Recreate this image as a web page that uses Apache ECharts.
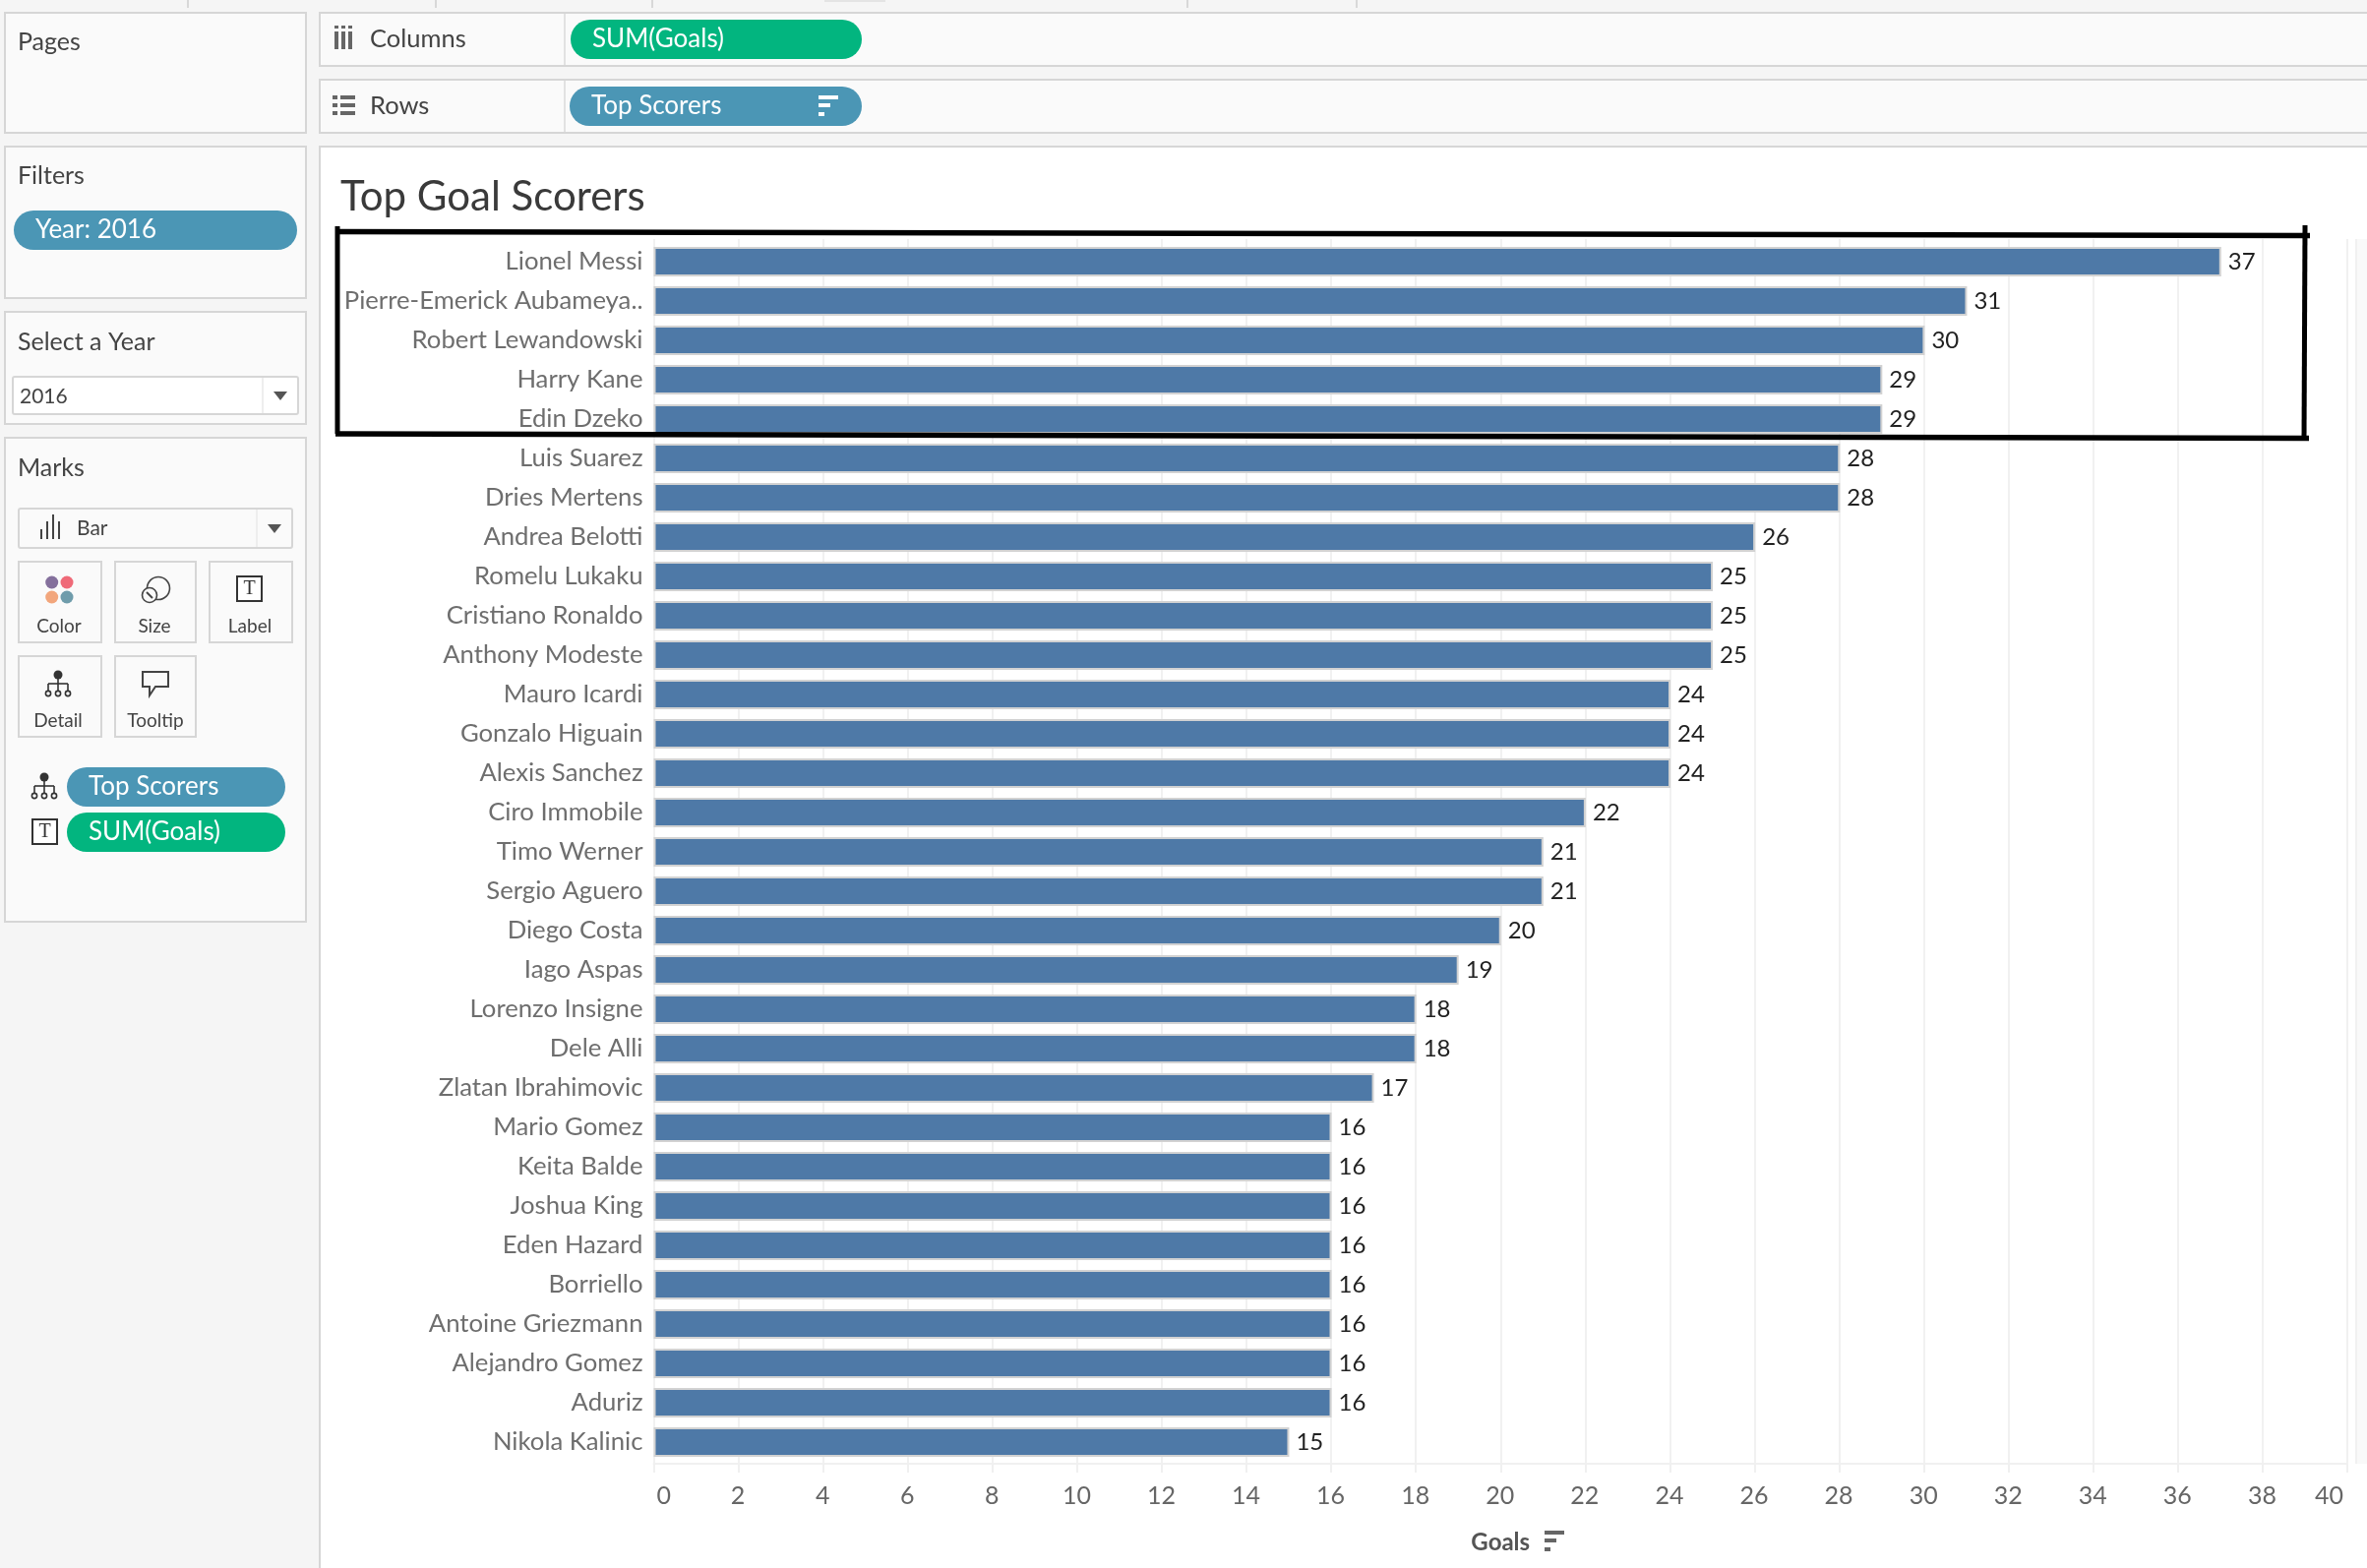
<!DOCTYPE html>
<html>
<head>
<meta charset="utf-8">
<title>Top Goal Scorers</title>
<style>
  html, body { margin: 0; padding: 0; background: #f5f5f5; }
  #chart { width: 2406px; height: 1594px; }
</style>
<script src="https://cdn.jsdelivr.net/npm/echarts@6/dist/echarts.min.js"></script>
</head>
<body>
<div id="chart"></div>
<script>
const scorers = [
  "Lionel Messi", "Pierre-Emerick Aubameya..", "Robert Lewandowski", "Harry Kane", "Edin Dzeko",
  "Luis Suarez", "Dries Mertens", "Andrea Belotti", "Romelu Lukaku", "Cristiano Ronaldo",
  "Anthony Modeste", "Mauro Icardi", "Gonzalo Higuain", "Alexis Sanchez", "Ciro Immobile",
  "Timo Werner", "Sergio Aguero", "Diego Costa", "Iago Aspas", "Lorenzo Insigne",
  "Dele Alli", "Zlatan Ibrahimovic", "Mario Gomez", "Keita Balde", "Joshua King",
  "Eden Hazard", "Borriello", "Antoine Griezmann", "Alejandro Gomez", "Aduriz", "Nikola Kalinic",
];
const goals = [
  37, 31, 30, 29, 29, 28, 28, 26, 25, 25, 25, 24, 24, 24, 22, 21,
  21, 20, 19, 18, 18, 17, 16, 16, 16, 16, 16, 16, 16, 16, 15,
];
const axisMax = 40;
const axisStep = 2;

const FONT = "Lato";
const BORDER = "#d6d6d6";
const BLUE = "#4b96b5";
const GREEN = "#02b57f";
const ICON = "#666666";

// helpers for the Tableau chrome around the chart
const box = (x, y, w, h, fill, stroke, r) => ({
  type: "rect",
  z: -1,
  shape: { x, y, width: w, height: h, r: r || 0 },
  style: { fill: fill, stroke: stroke || null, lineWidth: stroke ? 2 : 0 },
});
const label = (x, y, text, size, color, align) => ({
  type: "text",
  z: 5,
  x,
  y,
  style: {
    text,
    fontFamily: FONT,
    fontSize: size,
    fill: color || "#444444",
    align: align || "left",
    verticalAlign: "middle",
  },
});
const seg = (x1, y1, x2, y2, color, width) => ({
  type: "line",
  z: 5,
  shape: { x1, y1, x2, y2 },
  style: { stroke: color || ICON, lineWidth: width || 2 },
});
const solid = (x, y, w, h, color) => ({
  type: "rect",
  z: 5,
  shape: { x, y, width: w, height: h },
  style: { fill: color || ICON },
});
const dot = (cx, cy, r, fill, stroke) => ({
  type: "circle",
  z: 5,
  shape: { cx, cy, r },
  style: { fill: fill || null, stroke: stroke || null, lineWidth: stroke ? 1.6 : 0 },
});
const pill = (x, y, w, text, color) => [
  Object.assign(box(x, y, w, 40, color, null, 20), { z: 4 }),
  label(x + 22, y + 20, text, 26, "#ffffff"),
];
const sortIcon = (x, y, color) => [
  solid(x, y, 20, 4, color),
  solid(x, y + 8, 12, 4, color),
  solid(x, y + 17, 6, 4, color),
];
const treeIcon = (cx, top) => [
  dot(cx, top + 4, 4.5, "#333333"),
  seg(cx, top + 4, cx, top + 20, "#333333", 1.6),
  seg(cx - 10, top + 13, cx + 10, top + 13, "#333333", 1.6),
  seg(cx - 10, top + 13, cx - 10, top + 20, "#333333", 1.6),
  seg(cx + 10, top + 13, cx + 10, top + 20, "#333333", 1.6),
  dot(cx - 10, top + 23, 2.6, "#ffffff", "#333333"),
  dot(cx, top + 23, 2.6, "#ffffff", "#333333"),
  dot(cx + 10, top + 23, 2.6, "#ffffff", "#333333"),
];
const textIcon = (x, y) => [
  Object.assign(box(x, y, 25, 25, "#ffffff", "#333333"), { z: 5 }),
  {
    type: "text",
    z: 6,
    x: x + 12.5,
    y: y + 13,
    style: {
      text: "T",
      fontFamily: "Liberation Serif",
      fontSize: 20,
      fill: "#333333",
      align: "center",
      verticalAlign: "middle",
    },
  },
];
const arrow = (cx, cy) => ({
  type: "polygon",
  z: 5,
  shape: { points: [[cx - 7, cy - 4], [cx + 7, cy - 4], [cx, cy + 5]] },
  style: { fill: "#555555" },
});

const chrome = [
  // top strip ticks
  ...[191, 443, 663, 1207, 1379].map((x) => seg(x, 0, x, 8, "#d8d8d8")),
  Object.assign(box(838, 0, 62, 2, "#e4e4e4"), { z: 1 }),

  // side cards
  box(5, 13, 306, 122, "#fafafa", BORDER),
  label(18, 43, "Pages", 25),
  box(5, 149, 306, 154, "#fafafa", BORDER),
  label(18, 179, "Filters", 25),
  ...pill(14, 214, 288, "Year: 2016", BLUE),
  box(5, 317, 306, 114, "#fafafa", BORDER),
  label(18, 348, "Select a Year", 25),
  Object.assign(box(13, 383, 290, 38, "#ffffff", BORDER, 2), { z: 1 }),
  seg(267, 384, 267, 420, "#eeeeee"),
  label(20, 403, "2016", 21),
  arrow(285, 402),

  // marks card
  box(5, 445, 306, 492, "#fafafa", BORDER),
  label(18, 476, "Marks", 25),
  Object.assign(box(19, 517, 278, 40, "#fafafa", BORDER, 2), { z: 1 }),
  seg(261, 518, 261, 556, "#eeeeee"),
  arrow(279, 537),
  ...[42, 48, 54, 60].map((x, i) => seg(x, [538, 530, 523, 530][i], x, 548, "#444444")),
  label(78, 537, "Bar", 21),

  Object.assign(box(19, 571, 84, 82, "#fafafa", BORDER), { z: 1 }),
  Object.assign(box(117, 571, 82, 82, "#fafafa", BORDER), { z: 1 }),
  Object.assign(box(213, 571, 84, 82, "#fafafa", BORDER), { z: 1 }),
  Object.assign(box(19, 667, 84, 82, "#fafafa", BORDER), { z: 1 }),
  Object.assign(box(117, 667, 82, 82, "#fafafa", BORDER), { z: 1 }),
  dot(52.7, 592, 6.5, "#84709c"),
  dot(68, 592, 6.5, "#ef6a78"),
  dot(52.7, 607, 6.5, "#f2a67c"),
  dot(68, 607, 6.5, "#6f9cab"),
  label(60, 637, "Color", 19, "#444444", "center"),
  dot(161, 598, 11.5, null, "#444444"),
  dot(152, 605, 7.5, "#fafafa", "#444444"),
  seg(149, 602, 155, 608, "#444444"),
  label(157, 637, "Size", 19, "#444444", "center"),
  ...textIcon(241, 586),
  label(254, 637, "Label", 19, "#444444", "center"),
  ...treeIcon(59, 682),
  label(59, 733, "Detail", 19, "#444444", "center"),
  {
    type: "polygon",
    z: 5,
    shape: { points: [[145, 683], [171, 683], [171, 698], [158, 698], [152, 707], [152, 698], [145, 698]] },
    style: { fill: "#fafafa", stroke: "#444444", lineWidth: 2 },
  },
  label(158, 733, "Tooltip", 19, "#444444", "center"),
  ...treeIcon(45, 786),
  ...pill(68, 780, 222, "Top Scorers", BLUE),
  ...textIcon(33, 833),
  ...pill(68, 826, 222, "SUM(Goals)", GREEN),

  // shelves
  box(325, 13, 2090, 54, "#fafafa", BORDER),
  seg(574, 14, 574, 66, "#e2e2e2"),
  ...[340, 347, 354].map((x) => solid(x, 32, 4, 18, ICON)),
  ...[340, 347, 354].map((x) => solid(x, 26, 4, 3, ICON)),
  label(376, 40, "Columns", 25.5),
  ...pill(580, 20, 296, "SUM(Goals)", GREEN),
  box(325, 81, 2090, 54, "#fafafa", BORDER),
  seg(574, 82, 574, 134, "#e2e2e2"),
  ...[97, 105, 113].map((y) => solid(338, y, 5, 4, ICON)),
  ...[97, 105, 113].map((y) => solid(346, y, 15, 4, ICON)),
  label(376, 108, "Rows", 25.5),
  ...pill(579, 88, 297, "Top Scorers", BLUE),
  ...sortIcon(832, 97, "#ffffff"),

  // main sheet
  box(325, 149, 2090, 1460, "#ffffff", BORDER),
  box(2395, 243, 11, 1245, "#f9f9f9"),
  seg(2395, 243, 2395, 1488, "#f1f1f1"),
  label(346, 200.5, "Top Goal Scorers", 42, "#3a3a3a"),
  ...sortIcon(1570, 1556, ICON),

  // hand drawn highlight box
  seg(343, 230, 343, 441, "#000000", 5),
  seg(341, 235.5, 2348, 239.5, "#000000", 5.5),
  seg(341, 441, 2347, 445.5, "#000000", 5.5),
  seg(2343, 229, 2342, 447, "#000000", 5),
];

const chart = echarts.init(document.getElementById("chart"));

chart.setOption({
  backgroundColor: "#f5f5f5",
  animation: false,
  textStyle: { fontFamily: FONT },
  graphic: chrome,
  grid: [
    // axis + gridlines run a little past the bar rows
    { left: 664.5, top: 243, width: 1721.5, height: 1245 },
    { left: 664.5, top: 246, width: 1722.5, height: 1240 },
  ],
  xAxis: [
    {
      gridIndex: 0,
      type: "value",
      min: 0,
      max: axisMax,
      interval: axisStep,
      name: "Goals",
      nameLocation: "middle",
      nameGap: 68,
      nameTextStyle: { fontFamily: FONT, fontSize: 24, color: "#555555", fontWeight: "bold" },
      axisLine: { show: true, lineStyle: { color: "#f0f0f0", width: 2 } },
      axisTick: { show: true, length: 9, lineStyle: { color: "#f0f0f0", width: 2 } },
      splitLine: { show: true, lineStyle: { color: "#f1f1f1", width: 2 } },
      axisLabel: {
        fontFamily: FONT,
        fontSize: 25,
        color: "#666666",
        margin: 20,
        padding: [0, 4, 0, 3],
        alignMinLabel: "left",
        alignMaxLabel: "right",
      },
    },
    { gridIndex: 1, type: "value", min: 0, max: axisMax, show: false },
  ],
  yAxis: [
    { gridIndex: 0, type: "category", show: false, data: scorers, inverse: true },
    {
      gridIndex: 1,
      type: "category",
      data: scorers,
      inverse: true,
      axisLine: { show: false },
      axisTick: { show: false },
      axisLabel: { fontFamily: FONT, fontSize: 25.7, color: "#6e6e6e", margin: 11, interval: 0 },
    },
  ],
  series: [
    {
      type: "bar",
      xAxisIndex: 1,
      yAxisIndex: 1,
      data: goals,
      barWidth: 30,
      itemStyle: { color: "#4e79a7", borderColor: "#d2d2d2", borderWidth: 2 },
      label: {
        show: true,
        position: "right",
        distance: 7,
        fontFamily: FONT,
        fontSize: 24,
        color: "#222222",
      },
    },
  ],
});
</script>
</body>
</html>
